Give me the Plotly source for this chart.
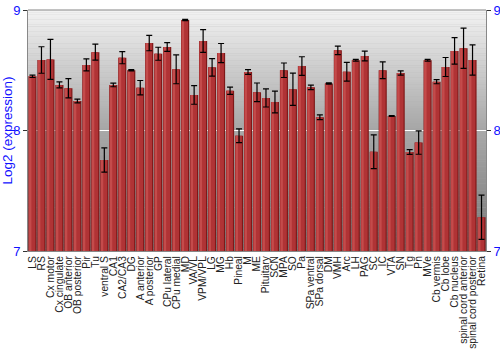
import plotly.graph_objects as go

categories = ["LS", "RS", "Cx motor", "Cx cingulate", "OB anterior", "OB posterior", "Pir", "Tu",
              "ventral S", "CA1", "CA2/CA3", "DG", "A anterior", "A posterior", "GP", "CPu lateral",
              "CPu medial", "MD", "VA/VL", "VPM/VPL", "LG", "MG", "Hb", "Pineal", "M", "ME",
              "Pituitary", "SCN", "MPA", "SO", "Pa", "SPa ventral", "SPa dorsal", "DM", "VMH", "Arc",
              "LH", "PAG", "SC", "IC", "VTA", "SN", "Tg", "Pn", "MVe", "Cb vermis", "Cb lobe",
              "Cb nucleus", "spinal cord anterior", "spinal cord posterior", "Retina"]

values = [8.45, 8.585, 8.59, 8.378, 8.35, 8.245, 8.544, 8.65,
          7.755, 8.378, 8.604, 8.50, 8.355, 8.726, 8.637, 8.693,
          8.508, 8.917, 8.295, 8.743, 8.524, 8.643, 8.33, 7.957, 8.485, 8.317,
          8.27, 8.237, 8.50, 8.342, 8.535, 8.358, 8.11, 8.39, 8.665, 8.488,
          8.583, 8.618, 7.824, 8.50, 8.12, 8.477, 7.822, 7.90, 8.583, 8.405, 8.527,
          8.66, 8.682, 8.585, 7.28]

errors = [0.01, 0.11, 0.166, 0.025, 0.08, 0.015, 0.05, 0.066,
          0.10, 0.015, 0.05, 0.005, 0.06, 0.064, 0.054, 0.037,
          0.12, 0.006, 0.077, 0.094, 0.073, 0.079, 0.03, 0.057, 0.02, 0.077,
          0.075, 0.09, 0.06, 0.134, 0.077, 0.018, 0.02, 0.005, 0.035, 0.078,
          0.008, 0.04, 0.14, 0.07, 0.004, 0.017, 0.02, 0.097, 0.008, 0.017, 0.079,
          0.11, 0.167, 0.126, 0.184]

ticks = [7, 8, 9]
blue = "#1010ff"

fig = go.Figure()
# cylinder-like shading made of overlaid bars
fig.add_trace(go.Bar(x=categories, y=values, width=0.9, offset=-0.45,
                     marker=dict(color="#7e1818", line=dict(width=0)), hoverinfo="skip"))
fig.add_trace(go.Bar(x=categories, y=values, width=0.74, offset=-0.42,
                     marker=dict(color="#b03335", line=dict(width=0)), hoverinfo="skip"))
fig.add_trace(go.Bar(x=categories, y=values, width=0.26, offset=-0.38,
                     marker=dict(color="#c44b4b", line=dict(width=0)), hoverinfo="skip"))
# error bars centred on the bar
fig.add_trace(go.Scatter(x=categories, y=values, mode="markers", marker=dict(opacity=0),
                         error_y=dict(type="data", array=errors, color="black", thickness=1.2, width=3),
                         hoverinfo="skip"))
# invisible trace for the right axis
fig.add_trace(go.Scatter(x=[categories[0]], y=[8], yaxis="y2", mode="markers",
                         marker=dict(opacity=0), hoverinfo="skip", showlegend=False))

# background gradient (stepped)
shapes = []
n = 50
def lerp(a, b, t):
    return int(round(a + (b - a) * t))
for i in range(n):
    t = i / (n - 1)
    c = lerp(0xf2, 0xa6, t)
    shapes.append(dict(type="rect", xref="x domain", yref="y domain", x0=0, x1=1,
                       y0=1 - 0.5 * (i + 1) / n, y1=1 - 0.5 * i / n + 0.001,
                       fillcolor=f"rgb({c},{c},{c})", line=dict(width=0), layer="below"))
for i in range(n):
    t = i / (n - 1)
    c = lerp(0xa8, 0x78, t)
    shapes.append(dict(type="rect", xref="x domain", yref="y domain", x0=0, x1=1,
                       y0=0.5 - 0.5 * (i + 1) / n, y1=0.5 - 0.5 * i / n + 0.001,
                       fillcolor=f"rgb({c},{c},{c})", line=dict(width=0), layer="below"))

fig.update_layout(
    width=500, height=350,
    margin=dict(l=28, r=14, t=10, b=99),
    paper_bgcolor="white", plot_bgcolor="#b0b0b0",
    barmode="overlay", showlegend=False,
    shapes=shapes,
    font=dict(family="Liberation Sans, Arial, sans-serif"),
    xaxis=dict(tickangle=-90, tickfont=dict(size=10.3, color="#222"), showgrid=False,
               tickmode="array", tickvals=categories, ticktext=categories,
               ticks="", showline=True, linecolor="#888", mirror=False, automargin=False,
               range=[-0.5, len(categories) - 0.5]),
    yaxis=dict(range=[7, 9], tickvals=ticks, tickfont=dict(size=13, color=blue),
               title=dict(text="Log2 (expression)", font=dict(size=13.5, color=blue), standoff=2),
               showgrid=True, gridcolor="white", gridwidth=1, zeroline=False,
               ticks="outside", ticklen=4, tickcolor="#333", automargin=False,
               showline=True, linecolor="#888", mirror=False),
    yaxis2=dict(range=[7, 9], tickvals=ticks, overlaying="y", side="right",
                tickfont=dict(size=13, color=blue), showgrid=False, zeroline=False,
                ticks="outside", ticklen=4, tickcolor="#333", automargin=False,
                showline=True, linecolor="#888"),
)
# top border
fig.add_shape(type="line", xref="x domain", yref="y domain", x0=0, x1=1, y0=1, y1=1,
              line=dict(color="#888", width=1))

fig.write_html("out.html")
